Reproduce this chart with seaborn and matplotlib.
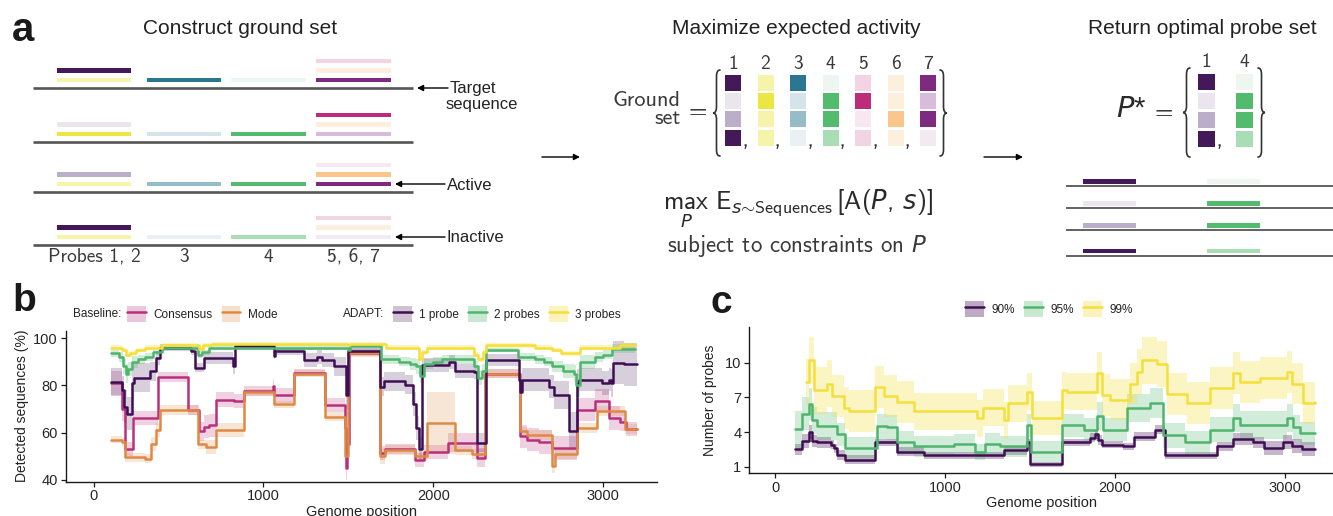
import matplotlib
matplotlib.use("Agg")
import matplotlib.pyplot as plt
import numpy as np
import pandas as pd
import seaborn as sns
from matplotlib.patches import Rectangle, Patch, PathPatch
from matplotlib.lines import Line2D
from matplotlib.path import Path

sns.set_theme(style="ticks")
plt.rcParams["font.family"] = ["Liberation Sans", "DejaVu Sans"]
plt.rcParams["mathtext.fontset"] = "custom"
plt.rcParams["mathtext.rm"] = "cmss10"
plt.rcParams["mathtext.sf"] = "cmss10"
plt.rcParams["mathtext.it"] = "DejaVu Sans:italic"

# ---------------------------------------------------------------- data
# Panel a: ground set of probes (columns) against four target sequences (rows)
probe_ids = ["1", "2", "3", "4", "5", "6", "7"]
ground_colors = [
    ["#43195a", "#ebe5ee", "#bbaec9", "#43195a"],   # probe 1
    ["#f6f4ab", "#ebe641", "#f6f4ab", "#f6f4ab"],   # probe 2
    ["#2b7690", "#d5e4ea", "#95bcc8", "#eaf1f4"],   # probe 3
    ["#edf7ef", "#52bb6e", "#52bb6e", "#a9ddb6"],   # probe 4
    ["#f3d3e4", "#be2b79", "#f8e7f0", "#f2d5e4"],   # probe 5
    ["#fdefdd", "#fdefdd", "#fbc68c", "#fdefdd"],   # probe 6
    ["#7e2a81", "#d8bcd9", "#7e2a81", "#f2e9f3"],   # probe 7
]
group_labels = ["Probes 1, 2", "3", "4", "5, 6, 7"]
probe_group = [0, 0, 1, 2, 3, 3, 3]
probe_tier = [1, 0, 0, 0, 2, 1, 0]
chosen_probes = [0, 3]

# Panel b: detected sequences (%) along the genome (step changes)
one_pos = [100, 168, 182, 195, 228, 237, 335, 365, 394, 575, 600, 650, 822, 832, 1060, 1070,
           1237, 1316, 1345, 1414, 1484, 1500, 1688, 1708, 1835, 1880, 1900, 1915, 1934, 2090,
           2129, 2240, 2257, 2308, 2501, 2510, 2520, 2678, 2708, 2796, 2845, 2855, 2990, 3033,
           3045, 3060, 3120, 3198]
one_val = [81.5, 78, 71, 68, 81, 83.3, 85.9, 91.7, 96, 94.5, 87.5, 91.7, 88, 96.5, 92.5, 94.4,
           90.8, 92, 90.8, 88, 76, 94.4, 79.5, 81.7, 80.3, 72, 62, 53, 88.7, 89.9,
           85.9, 85.7, 55.7, 90.8, 82.4, 77, 82.4, 79.5, 76, 60.8, 81, 82.4, 81, 82.4,
           81, 89.6, 88.9, 88.9]
one_err = [6, 6, 7, 7, 7, 6, 4, 3, 1.5, 1.5, 2, 2.5, 3, 1, 1.5, 1.5,
           3, 3, 3, 4, 6, 1.5, 4, 4, 4, 5, 5, 5, 3, 3,
           3, 3, 4, 2.5, 4, 5, 5, 5, 6, 8, 6, 5, 5, 5,
           6, 9, 9, 9]

two_pos = [100, 150, 175, 190, 205, 225, 260, 300, 350, 400, 600, 615, 640, 680, 1100, 1500,
           1510, 1670, 1690, 1750, 1800, 1860, 1900, 1920, 1945, 2000, 2050, 2200, 2240, 2265,
           2285, 2310, 2480, 2500, 2600, 2650, 2700, 2760, 2830, 2840, 2860, 2950, 3000, 3050, 3185]
two_val = [93.5, 92, 88, 85, 87, 90, 91, 92, 94, 96, 96, 93, 94, 96, 96, 95,
           96.5, 96.5, 91, 91, 90, 89, 88, 84, 89, 90, 91, 91, 88, 83,
           86, 95, 95, 92, 91, 90, 88, 86, 85, 80, 90, 92, 93, 95.5, 95.5]
two_err = [1.5, 2, 3, 4, 3, 2.5, 2, 1.5, 1, 1, 1, 1.5, 1, 1, 1, 1,
           1, 1, 2, 2, 2, 2.5, 3, 3, 2, 2, 2, 2, 2.5, 3,
           3, 1, 1, 1.5, 2, 2, 2.5, 3, 3.5, 5, 3, 2, 2, 2, 2]

three_pos = [100, 170, 190, 215, 250, 300, 400, 620, 645, 700, 1500, 1510, 1700, 1720, 1900, 1915,
             1935, 1960, 2200, 2240, 2262, 2290, 2310, 2500, 2600, 2700, 2750, 2840, 2860, 3000,
             3100, 3185]
three_val = [96, 95, 93, 93.5, 95, 96, 97, 95.5, 97, 97.5, 97, 97.5, 97.5, 96, 96, 91,
             94, 96, 96, 93, 91, 94, 97, 97, 96, 95, 93.5, 93.5, 96, 96,
             97, 97]
three_err = [1] * len(three_pos)

cons_pos = [100, 168, 185, 235, 382, 557, 618, 649, 680, 718, 825, 884, 1055, 1062, 1178, 1365,
            1482, 1488, 1494, 1502, 1688, 1718, 1894, 1943, 2088, 2257, 2306, 2512, 2550, 2620,
            2698, 2845, 2953, 3033, 3100, 3135, 3198]
cons_val = [81, 70, 53, 66, 83.5, 69.5, 60.5, 62.5, 63, 74, 73.3, 77.6, 79.7, 75.7, 85.3, 71.8,
            62, 45, 55, 93.8, 51.4, 53, 48.5, 51.8, 55.7, 49.4, 84.9, 58.4, 57, 56,
            53.5, 69.7, 73.5, 66.3, 64.5, 61.5, 61.5]
cons_err = [5, 5, 3, 3, 2, 2, 4, 5, 5, 3, 3, 2, 3, 3, 1.5, 3,
            5, 5, 5, 1.5, 3, 2, 3, 3, 4, 4, 2, 5, 5, 5,
            5, 5, 5, 5, 4, 3, 3]

mode_pos = [100, 168, 185, 300, 340, 365, 390, 615, 660, 718, 884, 1062, 1178, 1365, 1482, 1500,
            1688, 1718, 1894, 1963, 2129, 2225, 2306, 2512, 2550, 2698, 2715, 2845, 2963, 3129, 3198]
mode_val = [57, 56, 49.5, 49, 55, 61, 69.5, 55, 54, 61, 77, 72, 85, 66.8, 50, 93.5,
            49.9, 52.7, 50, 64, 52.5, 51, 84.9, 60.5, 59, 46, 51, 62, 69.2, 61.6, 61.6]
mode_err = [1.5, 1.5, 2, 2, 3, 3, 2, 2, 3, 3, 1.5, 1.5, 1.5, 2, 4, 1.5,
            3, 2, 2, 13, 2, 2, 2, 2, 2, 3, 2, 2, 2, 2, 2]

# Panel c: number of probes needed for a target coverage
p90_pos = [114, 157, 196, 216, 245, 330, 345, 363, 412, 588, 716, 873, 1343, 1480, 1500, 1686,
           1853, 1880, 1900, 1922, 2049, 2108, 2235, 2294, 2598, 2696, 2814, 2873, 2990, 3039,
           3098, 3176]
p90_val = [2.5, 3.2, 4.0, 3.2, 3.1, 2.9, 2.6, 2.0, 1.6, 3.1, 2.3, 2.0, 2.4, 3.1, 1.2, 3.1,
           3.5, 3.8, 3.3, 2.9, 2.75, 3.6, 4.2, 2.0, 2.75, 3.4, 3.1, 2.6, 3.1, 2.8,
           2.5, 2.5]
p90_err = [0.5, 0.6, 0.6, 0.5, 0.5, 0.4, 0.4, 0.4, 0.4, 0.3, 0.4, 0.3, 0.4, 0.3, 0.2, 0.3,
           0.4, 0.4, 0.4, 0.3, 0.3, 0.4, 0.4, 0.3, 0.4, 0.5, 0.5, 0.6, 0.6, 0.6,
           0.6, 0.6]

p95_pos = [114, 157, 196, 216, 245, 363, 412, 598, 657, 716, 814, 1049, 1176, 1235, 1323, 1480,
           1505, 1686, 1814, 1892, 1931, 2069, 2206, 2284, 2412, 2559, 2696, 2735, 3010, 3049,
           3088, 3176]
p95_val = [4.25, 5.6, 6.4, 5.0, 4.5, 3.8, 2.65, 4.5, 4.4, 3.1, 2.75, 3.0, 2.3, 3.0, 2.75, 4.6,
           2.3, 4.6, 4.2, 5.4, 4.2, 6.1, 6.5, 3.7, 3.1, 4.2, 5.2, 4.6, 5.2, 4.4,
           3.9, 3.9]
p95_err = [1.6, 1.4, 1.4, 1.2, 1.2, 1.0, 0.9, 1.1, 1.1, 1.0, 0.9, 0.8, 0.7, 0.9, 0.9, 1.0,
           0.9, 1.0, 1.0, 1.2, 1.0, 1.2, 1.3, 1.1, 1.0, 1.1, 1.2, 1.2, 1.2, 1.1,
           1.0, 1.0]

p99_pos = [182, 196, 225, 304, 333, 402, 431, 588, 637, 716, 814, 1186, 1225, 1343, 1370, 1480,
           1510, 1686, 1716, 1892, 1922, 1970, 2088, 2130, 2160, 2245, 2304, 2421, 2559, 2696,
           2735, 2853, 3010, 3039, 3108, 3176]
p99_val = [8.35, 10.2, 7.6, 8.2, 7.1, 6.1, 5.8, 7.9, 7.1, 6.6, 5.8, 5.2, 6.1, 5.0, 6.5, 7.5,
           5.2, 7.6, 7.5, 9.1, 7.2, 6.8, 8.2, 9.2, 10.2, 9.9, 7.3, 6.5, 7.8, 9.1,
           8.35, 8.7, 9.2, 8.2, 6.5, 6.6]
p99_err = [2.0, 2.0, 2.0, 2.0, 1.8, 1.8, 1.8, 1.8, 1.8, 1.8, 1.6, 1.6, 1.6, 1.6, 1.6, 1.6,
           1.5, 1.6, 1.6, 1.8, 1.8, 1.8, 1.8, 2.0, 2.0, 2.0, 1.8, 1.8, 1.8, 1.8,
           1.8, 1.8, 1.8, 1.8, 1.8, 1.8]

b_labels = ["Consensus", "Mode", "1 probe", "2 probes", "3 probes"]
c_labels = ["90%", "95%", "99%"]

# ---------------------------------------------------------------- style
col = {"Consensus": "#b8307c", "Mode": "#de8a45", "1 probe": "#3f0f53",
       "2 probes": "#4fb46d", "3 probes": "#f5df3c",
       "90%": "#3f0f53", "95%": "#4fb46d", "99%": "#f5df3c"}
band_alpha = {"Consensus": 0.22, "Mode": 0.22, "1 probe": 0.2, "2 probes": 0.25, "3 probes": 0.3,
              "90%": 0.3, "95%": 0.25, "99%": 0.3}
TXT = "#222222"

W, H = 1333, 516
fig = plt.figure(figsize=(W / 100, H / 100), dpi=100)

# ---------------------------------------------------------------- panel a (pixel canvas)
ax_a = fig.add_axes([0, 0, 1, 1], zorder=0)
ax_a.set_xlim(0, W)
ax_a.set_ylim(H, 0)
ax_a.axis("off")

def brace(ax, x, y0, y1, w, left=True, lw=1.2, color="#333333"):
    """Vertical curly brace between y0 and y1; tip at x, arms at x +/- w."""
    s = 1 if left else -1
    xm = x + s * w / 2
    xe = x + s * w
    ym = (y0 + y1) / 2
    r = w * 0.9
    verts = [(xe, y0), (xm, y0), (xm, y0 + r),
             (xm, ym - r), (xm, ym), (x, ym),
             (xm, ym), (xm, ym + r),
             (xm, y1 - r), (xm, y1), (xe, y1)]
    codes = [Path.MOVETO, Path.CURVE3, Path.CURVE3,
             Path.LINETO, Path.CURVE3, Path.CURVE3,
             Path.CURVE3, Path.CURVE3,
             Path.LINETO, Path.CURVE3, Path.CURVE3]
    ax.add_patch(PathPatch(Path(verts, codes), fill=False, lw=lw, color=color, capstyle="round"))

def arrow(ax, x0, x1, y):
    ax.annotate("", xy=(x1, y), xytext=(x0, y),
                arrowprops=dict(arrowstyle="-|>", color="black", lw=1.0,
                                mutation_scale=9, shrinkA=0, shrinkB=0))

cm_font = dict(family="cmss10", color="#3a3a3a")

# titles
ax_a.text(12, 30, "a", fontsize=29, fontweight="bold", color="#1a1a1a", va="center", ha="left")
for cx, t in [(240, "Construct ground set"), (796, "Maximize expected activity"),
              (1202, "Return optimal probe set")]:
    ax_a.text(cx, 29, t, fontsize=15, color=TXT, ha="center", va="center")

# left: probes on four sequences
seq_y = [88, 142, 192, 245]
group_x = [(57, 131), (147, 221), (231, 306), (316, 391)]
tier_dy = [8, 17.5, 27]
for s, y in enumerate(seq_y):
    ax_a.plot([33, 413], [y, y], color="#555555", lw=1.9, solid_capstyle="butt")
    for p in range(len(probe_ids)):
        x0, x1 = group_x[probe_group[p]]
        yc = y - tier_dy[probe_tier[p]]
        ax_a.add_patch(Rectangle((x0, yc - 2.2), x1 - x0, 4.4,
                                 facecolor=ground_colors[p][s], lw=0))
for (x0, x1), lab in zip(group_x, group_labels):
    ax_a.text((x0 + x1) / 2, 257, lab, fontsize=14, ha="center", va="center", **cm_font)

arrow(ax_a, 448, 417, 88)
ax_a.text(450, 88, "Target", fontsize=12, color=TXT, va="center", ha="left")
ax_a.text(446, 104, "sequence", fontsize=12, color=TXT, va="center", ha="left")
arrow(ax_a, 445, 395, 184)
ax_a.text(447, 185, "Active", fontsize=12, color=TXT, va="center", ha="left")
arrow(ax_a, 445, 395, 237)
ax_a.text(447, 238, "Inactive", fontsize=12, color=TXT, va="center", ha="left")

# middle: ground set matrix and objective
arrow(ax_a, 542, 580, 157)
sq, col_x0, col_pitch, row_y0, row_pitch = 16, 725, 32.5, 75, 18.2
for p in range(len(probe_ids)):
    x0 = col_x0 + p * col_pitch
    ax_a.text(x0 + sq / 2, 64, probe_ids[p], fontsize=14, ha="center", va="center", **cm_font)
    for s in range(4):
        ax_a.add_patch(Rectangle((x0, row_y0 + s * row_pitch), sq, sq,
                                 facecolor=ground_colors[p][s], lw=0))
    if p < len(probe_ids) - 1:
        ax_a.text(x0 + sq + 0.5, 146, ",", fontsize=19, ha="left", va="baseline", **cm_font)
brace(ax_a, 713, 70, 156, 7, left=True)
brace(ax_a, 947, 70, 156, 7, left=False)
ax_a.text(681, 100, "Ground", fontsize=16, ha="right", va="center", **cm_font)
ax_a.text(681, 119, "set", fontsize=16, ha="right", va="center", **cm_font)
ax_a.text(698, 111, "=", fontsize=17, ha="center", va="center", **cm_font)
ax_a.text(798, 209, r"$\max_{P}\ \mathrm{E}_{s\sim\mathrm{Sequences}}[\mathrm{A}(P,\,s)]$",
          fontsize=18.5, ha="center", va="baseline", color="#2a2a2a")
ax_a.text(797, 246, r"subject to constraints on $P$", fontsize=16.5, ha="center", va="center",
          **cm_font)

# right: optimal probe set
arrow(ax_a, 984, 1023, 157)
ax_a.text(1131, 109, r"$P$*", fontsize=21, ha="center", va="center", color="#2a2a2a")
ax_a.text(1164, 112, "=", fontsize=17, ha="center", va="center", **cm_font)
brace(ax_a, 1183, 68, 157, 7, left=True)
brace(ax_a, 1265, 68, 157, 7, left=False)
opt_x = [1198, 1236]
opt_lines = [186, 208, 230, 255.5]
opt_bars = [(1083, 1136), (1207, 1260)]
for i, p in enumerate(chosen_probes):
    x0 = opt_x[i]
    ax_a.text(x0 + 8.5, 62, probe_ids[p], fontsize=14, ha="center", va="center", **cm_font)
    for s in range(4):
        ax_a.add_patch(Rectangle((x0, 73.5 + s * 19), 17, 16.5,
                                 facecolor=ground_colors[p][s], lw=0))
    if i == 0:
        ax_a.text(x0 + 17.5, 146, ",", fontsize=19, ha="left", va="baseline", **cm_font)
for s, y in enumerate(opt_lines):
    ax_a.plot([1066, W], [y, y], color="#555555", lw=1.3, solid_capstyle="butt")
    for i, p in enumerate(chosen_probes):
        bx0, bx1 = opt_bars[i]
        ax_a.add_patch(Rectangle((bx0, y - 7), bx1 - bx0, 4.6,
                                 facecolor=ground_colors[p][s], lw=0))

# ---------------------------------------------------------------- panels b and c
def long_frame(series):
    return pd.concat([pd.DataFrame({"pos": p, "val": v, "series": n}) for n, p, v in series],
                     ignore_index=True)

def draw_bands(ax, series_err):
    for name, p, v, e in series_err:
        v = np.asarray(v, float)
        e = np.asarray(e, float)
        ax.fill_between(p, v - e, v + e, step="post", color=col[name],
                        alpha=band_alpha[name], lw=0)

def style_axes(ax):
    sns.despine(ax=ax)
    for sp in ("left", "bottom"):
        ax.spines[sp].set_linewidth(1.0)
        ax.spines[sp].set_color("#1a1a1a")
    ax.tick_params(axis="both", length=3.5, width=0.9, color="#1a1a1a",
                   labelsize=10.5, labelcolor="#262626", pad=2)
    ax.set_facecolor("none")

def legend_key(name):
    return (Patch(facecolor=col[name], alpha=band_alpha[name] + 0.05, edgecolor="none"),
            Line2D([], [], color=col[name], lw=1.8))

b_series = [("Consensus", cons_pos, cons_val, cons_err), ("Mode", mode_pos, mode_val, mode_err),
            ("1 probe", one_pos, one_val, one_err), ("2 probes", two_pos, two_val, two_err),
            ("3 probes", three_pos, three_val, three_err)]

ax_b = fig.add_axes([65.5 / W, (H - 481.5) / H, (657 - 65.5) / W, (481.5 - 330.5) / H], zorder=2)
draw_bands(ax_b, b_series)
sns.lineplot(data=long_frame([(n, p, v) for n, p, v, _ in b_series]), x="pos", y="val",
             hue="series", hue_order=b_labels, palette=col, estimator=None, sort=False,
             drawstyle="steps-post", linewidth=1.8, legend=False, ax=ax_b)
ax_b.set_xlim(-165, 3316)
ax_b.set_ylim(39.3, 103.2)
ax_b.set_xticks([0, 1000, 2000, 3000])
ax_b.set_yticks([40, 60, 80, 100])
ax_b.set_xlabel("Genome position", fontsize=10.5, color=TXT, labelpad=1)
ax_b.set_ylabel("Detected sequences (%)", fontsize=10, color=TXT, labelpad=3)
style_axes(ax_b)

fig.text(12 / W, 1 - 301 / H, "b", fontsize=28, fontweight="bold", color="#1a1a1a",
         va="center", ha="left")
fig.text(73 / W, 1 - 314 / H, "Baseline:", fontsize=8.5, color=TXT, va="center", ha="left")
fig.text(343 / W, 1 - 314 / H, "ADAPT:", fontsize=8.5, color=TXT, va="center", ha="left")
leg_kw = dict(frameon=False, fontsize=8.5, handlelength=1.6, handleheight=1.6,
              handletextpad=0.6, columnspacing=0.8, borderpad=0, borderaxespad=0,
              labelcolor=TXT)
fig.legend([legend_key(n) for n in b_labels[:2]], b_labels[:2], ncol=2, loc="center left",
           bbox_to_anchor=(127 / W, 1 - 314 / H), **leg_kw)
fig.legend([legend_key(n) for n in b_labels[2:]], b_labels[2:], ncol=3, loc="center left",
           bbox_to_anchor=(393 / W, 1 - 314 / H), **leg_kw)

c_series = [("90%", p90_pos, p90_val, p90_err), ("95%", p95_pos, p95_val, p95_err),
            ("99%", p99_pos, p99_val, p99_err)]
ax_c = fig.add_axes([749 / W, (H - 473) / H, (W - 749) / W, (473 - 327) / H], zorder=2)
draw_bands(ax_c, c_series)
sns.lineplot(data=long_frame([(n, p, v) for n, p, v, _ in c_series]), x="pos", y="val",
             hue="series", hue_order=c_labels, palette=col, estimator=None, sort=False,
             drawstyle="steps-post", linewidth=1.8, legend=False, ax=ax_c)
ax_c.set_xlim(-155, 3282)
ax_c.set_ylim(0.45, 13.1)
ax_c.set_xticks([0, 1000, 2000, 3000])
ax_c.set_yticks([1, 4, 7, 10])
ax_c.set_xlabel("Genome position", fontsize=10.5, color=TXT, labelpad=1)
ax_c.set_ylabel("Number of probes", fontsize=10, color=TXT, labelpad=6)
style_axes(ax_c)

fig.text(711 / W, 1 - 303 / H, "c", fontsize=28, fontweight="bold", color="#1a1a1a",
         va="center", ha="left")
fig.legend([legend_key(n) for n in c_labels], c_labels, ncol=3, loc="center",
           bbox_to_anchor=(1049 / W, 1 - 309 / H), **leg_kw)

fig.savefig("out.png", dpi=100)
